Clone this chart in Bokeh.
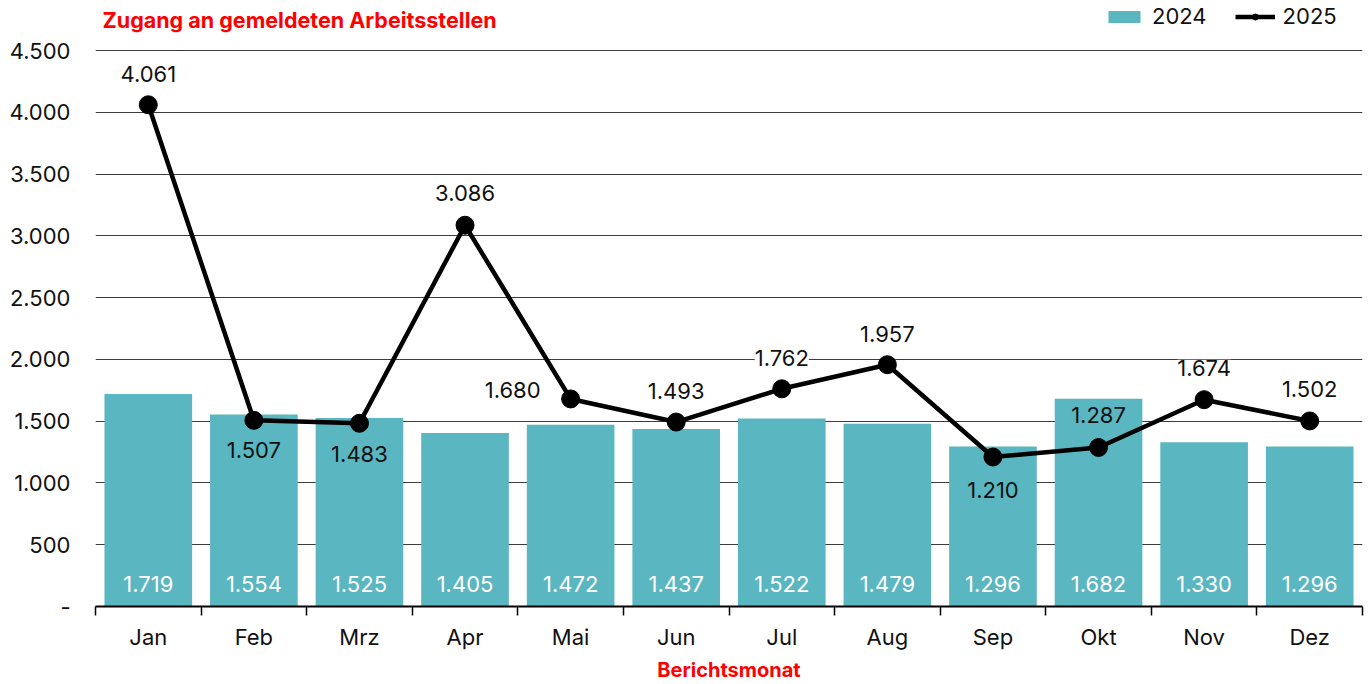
from bokeh.plotting import figure
from bokeh.models import (Range1d, FixedTicker, Legend, LegendItem, LabelSet, Label,
                          ColumnDataSource)
from bokeh.core.properties import value
from bokeh.embed import file_html
from bokeh.resources import INLINE

# ---- data ----
months = ["Jan", "Feb", "Mrz", "Apr", "Mai", "Jun", "Jul", "Aug", "Sep", "Okt", "Nov", "Dez"]
values_2024 = [1719, 1554, 1525, 1405, 1472, 1437, 1522, 1479, 1296, 1682, 1330, 1296]
values_2025 = [4061, 1507, 1483, 3086, 1680, 1493, 1762, 1957, 1210, 1287, 1674, 1502]
y_ticks = [0, 500, 1000, 1500, 2000, 2500, 3000, 3500, 4000, 4500]
y_tick_labels = ["-", "500", "1.000", "1.500", "2.000", "2.500", "3.000", "3.500", "4.000", "4.500"]

# label placement for the 2025 values (screen px relative to point)
lbl_dx = [0, 0, 0, 0, -58, 0, 0, 0, 0, 0, 0, 0]
lbl_dy = [31, -30, -31, 32, 9, 31, 31, 31, -33, 32, 32, 32]
lbl_bg = ["white", None, None, "white", "white", "white", "white", "white", None, None, "white", "white"]


def fmt(v):
    return f"{v:,}".replace(",", ".")


FONT = "Inter"
TEAL = "#5AB6C0"
RED = "#FF0000"
FS = "22px"

xs = list(range(len(months)))
src = ColumnDataSource(dict(
    x=xs,
    v24=values_2024,
    v25=values_2025,
    t24=[fmt(v) for v in values_2024],
    t25=[fmt(v) for v in values_2025],
    dx=lbl_dx,
    dy=lbl_dy,
    bg=lbl_bg,
))

p = figure(width=1366, height=684, x_range=Range1d(-0.5, 11.5), y_range=Range1d(0, 4905),
           output_backend="svg", toolbar_location=None, title=None,
           min_border_left=95, min_border_right=4, min_border_top=0, min_border_bottom=0,
           outline_line_color=None, background_fill_color="white")

# grid
p.xgrid.visible = False
p.ygrid.grid_line_color = "#3c3c3c"
p.ygrid.grid_line_width = 1

# y axis
ya = p.yaxis[0]
ya.ticker = FixedTicker(ticks=y_ticks)
ya.major_label_overrides = {t: l for t, l in zip(y_ticks, y_tick_labels)}
ya.axis_line_color = None
ya.major_tick_line_color = None
ya.minor_tick_line_color = None
ya.major_tick_out = 0
ya.major_label_standoff = 25
ya.major_label_text_font = FONT
ya.major_label_text_font_size = FS
ya.major_label_text_color = "#111111"

# x axis
xa = p.xaxis[0]
xa.ticker = FixedTicker(ticks=xs, minor_ticks=[i - 0.5 for i in range(len(months) + 1)])
xa.major_label_overrides = {i: m for i, m in enumerate(months)}
xa.major_tick_line_color = None
xa.major_tick_out = 0
xa.major_tick_in = 0
xa.minor_tick_line_color = "black"
xa.minor_tick_out = 9
xa.minor_tick_in = 0
xa.minor_tick_line_width = 1.5
xa.axis_line_color = "black"
xa.axis_line_width = 2
xa.major_label_standoff = 8
xa.major_label_text_font = FONT
xa.major_label_text_font_size = FS
xa.major_label_text_color = "#111111"
xa.axis_label = "Berichtsmonat"
xa.axis_label_text_font = FONT
xa.axis_label_text_font_style = "bold"
xa.axis_label_text_font_size = "20px"
xa.axis_label_text_color = RED
xa.axis_label_standoff = 5

# bars
bars = p.vbar(x="x", top="v24", width=0.83, source=src, fill_color=TEAL, line_color=None)

# line
line = p.line(x="x", y="v25", source=src, line_color="black", line_width=4.5)
dots = p.scatter(x="x", y="v25", source=src, size=18, fill_color="black", line_color="black")

# bar labels
p.add_layout(LabelSet(x="x", y=0, text="t24", source=src, y_offset=23,
                      text_align="center", text_baseline="middle",
                      text_font=value(FONT), text_font_size=FS, text_color="white"))

# line labels
p.add_layout(LabelSet(x="x", y="v25", text="t25", source=src, x_offset="dx", y_offset="dy",
                      text_align="center", text_baseline="middle",
                      text_font=value(FONT), text_font_size=FS, text_color="#111111",
                      background_fill_color="bg"))

# title
p.add_layout(Label(x=7, y=587, x_units="screen", y_units="screen",
                   text="Zugang an gemeldeten Arbeitsstellen", text_font=FONT,
                   text_font_style="bold", text_font_size="21.5px", text_color=RED,
                   text_baseline="middle", text_align="left"))

# legend
legend = Legend(items=[LegendItem(label="2024", renderers=[bars]),
                       LegendItem(label="2025", renderers=[line, dots])],
                location=(1009, 577), orientation="horizontal",
                glyph_width=40, glyph_height=15, label_standoff=8, spacing=28,
                padding=0, margin=0, border_line_color=None, background_fill_alpha=0,
                label_text_font=FONT, label_text_font_size=FS, label_text_color="#111111")
p.add_layout(legend)

open("out.html", "w").write(file_html(p, INLINE))
